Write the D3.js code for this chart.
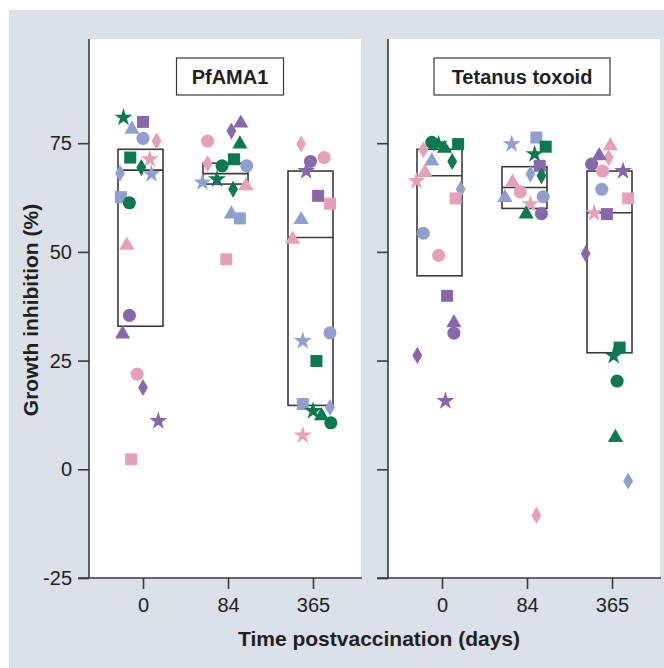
<!DOCTYPE html>
<html>
<head>
  <meta charset="utf-8">
  <script src="https://d3js.org/d3.v7.min.js"></script>
  <style>
    body { margin: 0; background: #fff; }
    text { font-family: "Liberation Sans", Arial, sans-serif; fill: #231f20; }
  </style>
</head>
<body>
<script>
  "use strict";

  // categories
  var days = ["0", "84", "365"];
  var panels = ["PfAMA1", "Tetanus toxoid"];
  var yTicks = [-25, 0, 25, 50, 75];

  // subject colours
  var colors = { green: "#0b7a4f", purple: "#8868ad", blue: "#8fa0cf", pink: "#e8a0ba" };

  // box summaries: [day, q1, median, q3]
  var pfamaBoxes = [["0", 32.9, 68.8, 73.6], ["84", 65.6, 68.0, 70.4], ["365", 14.7, 53.3, 68.6]];
  var tetanusBoxes = [["0", 44.5, 67.5, 73.6], ["84", 60.0, 64.8, 69.6], ["365", 26.8, 59.0, 68.6]];

  // points: [day, colour, shape, growth inhibition %, jitter (fraction of step)]
  var pfamaPoints = [
    ["0", "green", "star", 80.9, -0.23], ["0", "purple", "square", 79.9, 0.0],
    ["0", "blue", "triangle", 78.2, -0.13], ["0", "blue", "circle", 76.1, 0.0],
    ["0", "pink", "diamond", 75.5, 0.16], ["0", "green", "square", 71.7, -0.15],
    ["0", "pink", "star", 71.3, 0.08], ["0", "green", "diamond", 69.4, -0.02],
    ["0", "blue", "star", 67.9, 0.10], ["0", "blue", "diamond", 68.1, -0.27],
    ["0", "blue", "square", 62.6, -0.26], ["0", "green", "circle", 61.3, -0.16],
    ["0", "pink", "triangle", 51.5, -0.19], ["0", "purple", "circle", 35.4, -0.16],
    ["0", "purple", "triangle", 31.1, -0.24], ["0", "pink", "circle", 21.9, -0.07],
    ["0", "purple", "diamond", 18.8, 0.0], ["0", "purple", "star", 11.1, 0.18],
    ["0", "pink", "square", 2.3, -0.14],
    ["84", "purple", "triangle", 79.6, 0.15], ["84", "purple", "diamond", 77.8, 0.04],
    ["84", "pink", "circle", 75.5, -0.24], ["84", "green", "triangle", 74.8, 0.14],
    ["84", "green", "square", 71.3, 0.07], ["84", "pink", "diamond", 70.3, -0.24],
    ["84", "green", "circle", 69.8, -0.07], ["84", "blue", "circle", 69.8, 0.22],
    ["84", "blue", "star", 66.0, -0.30], ["84", "green", "star", 66.7, -0.13],
    ["84", "pink", "triangle", 65.2, 0.21], ["84", "green", "diamond", 64.4, 0.06],
    ["84", "blue", "triangle", 58.7, 0.04], ["84", "blue", "square", 57.7, 0.14],
    ["84", "pink", "square", 48.3, -0.02],
    ["365", "pink", "diamond", 74.8, -0.14], ["365", "pink", "circle", 71.7, 0.13],
    ["365", "purple", "circle", 70.8, -0.03], ["365", "purple", "star", 68.6, -0.08],
    ["365", "purple", "square", 62.9, 0.06], ["365", "pink", "square", 61.1, 0.20],
    ["365", "blue", "triangle", 57.4, -0.14], ["365", "pink", "triangle", 52.9, -0.24],
    ["365", "blue", "circle", 31.4, 0.20], ["365", "blue", "star", 29.5, -0.12],
    ["365", "green", "square", 24.9, 0.04], ["365", "blue", "square", 15.0, -0.12],
    ["365", "blue", "diamond", 14.2, 0.20], ["365", "green", "star", 13.4, 0.0],
    ["365", "green", "triangle", 12.3, 0.10], ["365", "green", "circle", 10.7, 0.21],
    ["365", "pink", "star", 7.8, -0.12]
  ];

  var tetanusPoints = [
    ["0", "green", "circle", 75.2, -0.12], ["0", "green", "star", 74.8, -0.04],
    ["0", "green", "triangle", 73.8, 0.03], ["0", "green", "diamond", 70.8, 0.12],
    ["0", "green", "square", 74.8, 0.19], ["0", "pink", "diamond", 73.5, -0.22],
    ["0", "blue", "triangle", 70.9, -0.12], ["0", "pink", "triangle", 68.3, -0.20],
    ["0", "pink", "star", 66.3, -0.30], ["0", "blue", "diamond", 64.4, 0.22],
    ["0", "pink", "square", 62.3, 0.16], ["0", "blue", "circle", 54.3, -0.22],
    ["0", "pink", "circle", 49.2, -0.04], ["0", "purple", "square", 39.9, 0.06],
    ["0", "purple", "triangle", 33.7, 0.14], ["0", "purple", "circle", 31.3, 0.14],
    ["0", "purple", "diamond", 26.2, -0.29], ["0", "purple", "star", 15.7, 0.04],
    ["84", "blue", "star", 74.8, -0.18], ["84", "blue", "square", 76.3, 0.11],
    ["84", "green", "square", 74.2, 0.22], ["84", "green", "star", 72.5, 0.09],
    ["84", "purple", "square", 69.8, 0.15], ["84", "blue", "diamond", 67.9, 0.04],
    ["84", "green", "diamond", 67.5, 0.17], ["84", "pink", "triangle", 66.0, -0.17],
    ["84", "pink", "circle", 63.8, -0.08], ["84", "blue", "triangle", 62.5, -0.26],
    ["84", "blue", "circle", 62.7, 0.19], ["84", "pink", "star", 61.0, 0.04],
    ["84", "green", "triangle", 58.7, -0.01], ["84", "purple", "circle", 58.8, 0.17],
    ["84", "pink", "diamond", -10.6, 0.11],
    ["365", "pink", "triangle", 74.4, -0.02], ["365", "pink", "diamond", 71.7, -0.04],
    ["365", "purple", "triangle", 72.1, -0.15], ["365", "purple", "circle", 70.2, -0.24],
    ["365", "pink", "circle", 68.6, -0.11], ["365", "purple", "star", 68.6, 0.13],
    ["365", "blue", "circle", 64.4, -0.12], ["365", "pink", "square", 62.3, 0.19],
    ["365", "pink", "star", 58.9, -0.21], ["365", "purple", "square", 58.7, -0.06],
    ["365", "purple", "diamond", 49.6, -0.31], ["365", "green", "square", 28.0, 0.09],
    ["365", "green", "star", 26.1, 0.02], ["365", "green", "circle", 20.3, 0.06],
    ["365", "green", "triangle", 7.3, 0.04], ["365", "blue", "diamond", -2.7, 0.19]
  ];

  var W = 664, H = 668;
  var plotTop = 39, plotBottom = 578, panelW = 272;
  var panelX = [89, 388];

  var svg = d3.select("body").append("svg")
      .attr("width", W).attr("height", H);

  svg.append("rect")
      .attr("x", 9).attr("y", 10)
      .attr("width", W - 9).attr("height", H - 10)
      .attr("fill", "#dae1e8");

  var y = d3.scaleLinear().domain([-25, 100]).range([plotBottom, plotBottom - 125 * 4.348]);

  var symbols = {
    circle: d3.symbol().type(d3.symbolCircle).size(135),
    square: d3.symbol().type(d3.symbolSquare).size(144),
    triangle: d3.symbol().type(d3.symbolTriangle).size(100),
    diamond: d3.symbol().type(d3.symbolDiamond).size(84),
    star: d3.symbol().type(d3.symbolStar).size(100)
  };

  var allBoxes = [pfamaBoxes, tetanusBoxes];
  var allPoints = [pfamaPoints, tetanusPoints];

  panels.forEach(function (name, i) {
    var px = panelX[i];
    var g = svg.append("g");

    g.append("rect")
        .attr("x", px).attr("y", plotTop)
        .attr("width", panelW).attr("height", plotBottom - plotTop)
        .attr("fill", "#fff");

    var x = d3.scalePoint().domain(days).range([px + 54, px + 224]);

    // boxes
    g.selectAll("rect.box").data(allBoxes[i]).enter().append("rect")
        .attr("class", "box")
        .attr("x", function (d) { return x(d[0]) - 25; })
        .attr("y", function (d) { return y(d[3]); })
        .attr("width", 45)
        .attr("height", function (d) { return y(d[1]) - y(d[3]); })
        .attr("fill", "none").attr("stroke", "#3a3a3a").attr("stroke-width", 1.6);

    g.selectAll("line.med").data(allBoxes[i]).enter().append("line")
        .attr("x1", function (d) { return x(d[0]) - 25; })
        .attr("x2", function (d) { return x(d[0]) + 20; })
        .attr("y1", function (d) { return y(d[2]); })
        .attr("y2", function (d) { return y(d[2]); })
        .attr("stroke", "#3a3a3a").attr("stroke-width", 1.6);

    // points
    g.selectAll("path.pt").data(allPoints[i]).enter().append("path")
        .attr("class", "pt")
        .attr("d", function (d) { return symbols[d[2]](); })
        .attr("transform", function (d) {
          return "translate(" + (x(d[0]) + d[4] * x.step()) + "," + y(d[3]) + ")";
        })
        .attr("fill", function (d) { return colors[d[1]]; });

    // y axis (plain hyphen for negatives, labels only on the left panel)
    var ya = g.append("g")
        .attr("transform", "translate(" + px + ",0)")
        .call(d3.axisLeft(y).tickValues(yTicks).tickSize(11).tickPadding(6)
          .tickFormat(function (d) { return i === 0 ? String(d) : ""; }));
    ya.select(".domain").remove();
    ya.selectAll("line").attr("stroke", "#3a3a3a").attr("stroke-width", 1.6);
    ya.selectAll("text").style("font-size", "20px").attr("fill", "#231f20");

    g.append("line")
        .attr("x1", px).attr("x2", px)
        .attr("y1", plotTop).attr("y2", plotBottom)
        .attr("stroke", "#3a3a3a").attr("stroke-width", 1.6);

    // x axis
    var xa = g.append("g")
        .attr("transform", "translate(0," + plotBottom + ")")
        .call(d3.axisBottom(x).tickSize(11).tickPadding(9));
    xa.select(".domain").remove();
    xa.selectAll("line").attr("stroke", "#3a3a3a").attr("stroke-width", 1.6);
    xa.selectAll("text").style("font-size", "20px").attr("fill", "#231f20");

    g.append("line")
        .attr("x1", px - 11).attr("x2", px + panelW + 1)
        .attr("y1", plotBottom).attr("y2", plotBottom)
        .attr("stroke", "#3a3a3a").attr("stroke-width", 1.6);

    // panel title box
    var tx = i === 0 ? 230 : 522;
    g.append("text")
        .attr("x", tx).attr("y", 84)
        .attr("text-anchor", "middle")
        .style("font-size", "20px").style("font-weight", "bold")
        .text(name);
    var bw = i === 0 ? 107 : 176;
    g.append("rect")
        .attr("x", tx - bw / 2).attr("y", 58)
        .attr("width", bw).attr("height", 37)
        .attr("fill", "none").attr("stroke", "#3a3a3a").attr("stroke-width", 1.2);
  });

  svg.append("text")
      .attr("x", 379).attr("y", 646)
      .attr("text-anchor", "middle")
      .style("font-size", "21px").style("font-weight", "bold")
      .text("Time postvaccination (days)");

  svg.append("text")
      .attr("transform", "translate(38,310) rotate(-90)")
      .attr("text-anchor", "middle")
      .style("font-size", "21px").style("font-weight", "bold")
      .text("Growth inhibition (%)");
</script>
</body>
</html>
